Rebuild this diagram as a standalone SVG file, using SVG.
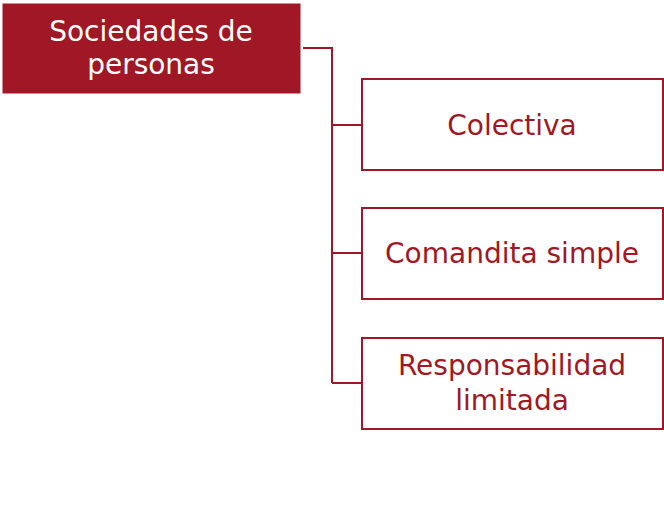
<svg xmlns="http://www.w3.org/2000/svg" width="664" height="505" viewBox="0 0 664 505">
<style>
.t{font-family:"DejaVu Sans","Liberation Sans",Arial,sans-serif;font-size:28px;text-anchor:middle}
.w{fill:#ffffff}
.r{fill:#A01825}
.box{fill:#ffffff;stroke:#A01825;stroke-width:2}
.c{fill:none;stroke:#A01825;stroke-width:2}
</style>
<rect width="664" height="505" fill="#ffffff"/>
<g id="connectors">
<path class="c" d="M303 48 H332 V383 M332 125 H362 M332 253 H362 M332 383 H362"/>
</g>
<g id="root">
<rect x="3" y="4" width="297" height="89" fill="#A01825" stroke="#A01825" stroke-width="1"/>
<text class="t w" x="151" y="41">Sociedades de</text>
<text class="t w" x="151" y="74">personas</text>
</g>
<g id="colectiva">
<rect class="box" x="362" y="79" width="301" height="91"/>
<text class="t r" x="512" y="135">Colectiva</text>
</g>
<g id="comandita">
<rect class="box" x="362" y="208" width="301" height="91"/>
<text class="t r" x="512" y="263">Comandita simple</text>
</g>
<g id="responsabilidad">
<rect class="box" x="362" y="338" width="301" height="91"/>
<text class="t r" x="512" y="375">Responsabilidad</text>
<text class="t r" x="512" y="410">limitada</text>
</g>
</svg>
